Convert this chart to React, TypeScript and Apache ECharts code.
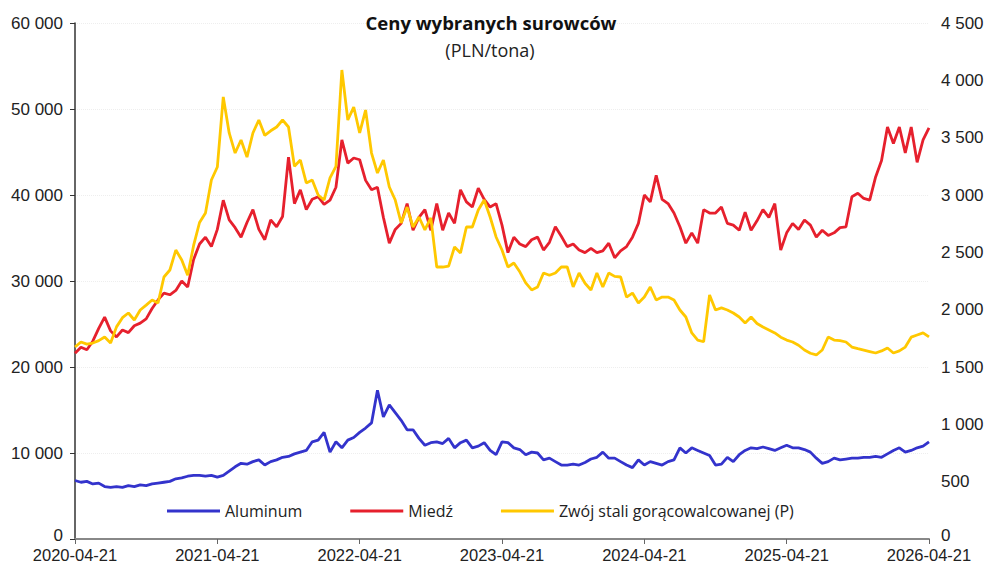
import React, { useEffect, useRef } from "react";
import * as echarts from "echarts";

// Semi-monthly observations, 2020-04-21 … 2026-04-21 (145 points)
const aluminum = [
  6800, 6600, 6700, 6400, 6500, 6100, 6000, 6100, 6000, 6200,
  6100, 6300, 6200, 6400, 6500, 6600, 6700, 7000, 7100, 7300,
  7400, 7400, 7300, 7400, 7200, 7400, 7900, 8400, 8800, 8700,
  9000, 9200, 8600, 9000, 9200, 9500, 9600, 9900, 10100, 10300,
  11300, 11500, 12400, 10100, 11300, 10600, 11500, 11800, 12400, 12900,
  13500, 17300, 14200, 15600, 14700, 13800, 12700, 12700, 11700, 10900,
  11200, 11300, 11100, 11700, 10600, 11200, 11500, 10600, 10800, 11200,
  10300, 9800, 11300, 11200, 10600, 10400, 9800, 10100, 10000, 9200,
  9400, 9000, 8600, 8600, 8700, 8600, 8900, 9300, 9500, 10100,
  9400, 9400, 9000, 8600, 8300, 9200, 8600, 9000, 8800, 8600,
  9000, 9200, 10600, 10000, 10600, 10300, 10000, 9700, 8600, 8700,
  9500, 9000, 9800, 10300, 10600, 10500, 10700, 10500, 10300, 10600,
  10900, 10600, 10600, 10400, 10100, 9400, 8800, 9000, 9400, 9200,
  9300, 9400, 9400, 9500, 9500, 9600, 9500, 9900, 10300, 10600,
  10100, 10300, 10600, 10800, 11300,
];

const copper = [
  21600, 22300, 22000, 23000, 24500, 25800, 24200, 23500, 24300, 24000,
  24800, 25100, 25600, 26800, 27800, 28600, 28400, 28900, 30000, 29300,
  32500, 34300, 35100, 34000, 36000, 39400, 37100, 36200, 35100, 36800,
  38300, 36000, 34800, 37100, 36300, 37500, 44400, 39000, 40600, 38300,
  39500, 39800, 38900, 39400, 40900, 46400, 43700, 44300, 44100, 41700,
  40600, 40900, 37400, 34400, 36000, 36700, 39000, 35900, 37400, 38300,
  35900, 39000, 35900, 37900, 36700, 40600, 39200, 38600, 40800, 39500,
  38600, 39000, 36500, 33300, 35100, 34300, 34000, 34800, 35100, 33600,
  34500, 36300, 35200, 34000, 34300, 33600, 33300, 33800, 33300, 33500,
  34400, 32700, 33500, 34000, 35100, 36700, 40000, 39200, 42300, 39500,
  39000, 37900, 36300, 34400, 35600, 34400, 38300, 37900, 37900, 38600,
  36700, 36500, 35900, 38000, 35900, 37000, 38300, 37400, 39000, 33600,
  35600, 36700, 36000, 37100, 36500, 35100, 35900, 35300, 35600, 36200,
  36300, 39800, 40200, 39600, 39400, 42100, 44000, 47900, 46000, 47900,
  44900, 47900, 43800, 46400, 47800,
];

const steel = [
  1674, 1718, 1700, 1709, 1730, 1762, 1709, 1850, 1930, 1971,
  1910, 1997, 2040, 2084, 2058, 2285, 2346, 2520, 2433, 2300,
  2560, 2760, 2843, 3131, 3244, 3855, 3541, 3366, 3480, 3331,
  3541, 3654, 3520, 3560, 3593, 3654, 3593, 3250, 3305, 3105,
  3131, 3000, 2956, 3150, 3250, 4090, 3654, 3767, 3541, 3741,
  3366, 3192, 3305, 3070, 2956, 2756, 2895, 2721, 2808, 2695,
  2800, 2372, 2372, 2380, 2547, 2494, 2721, 2721, 2869, 2956,
  2808, 2634, 2520, 2372, 2407, 2330, 2233, 2172, 2198, 2320,
  2300, 2320, 2372, 2372, 2198, 2320, 2230, 2172, 2320, 2198,
  2320, 2290, 2285, 2110, 2145, 2058, 2110, 2198, 2084, 2110,
  2110, 2084, 1997, 1936, 1797, 1735, 1720, 2128, 1997, 2015,
  1997, 1971, 1936, 1884, 1936, 1880, 1849, 1823, 1797, 1760,
  1735, 1718, 1690, 1648, 1620, 1605, 1648, 1762, 1735, 1730,
  1718, 1674, 1660, 1648, 1635, 1622, 1640, 1666, 1622, 1640,
  1674, 1760, 1779, 1797, 1762,
];

const seriesNames = ["Aluminum", "Miedź", "Zwój stali gorącowalcowanej (P)"];
const seriesColors = ["#3333cc", "#e6202d", "#ffc800"];
const titleText = "Ceny wybranych surowców";
const subtitleText = "(PLN/tona)";

function pad(n: number) {
  return n < 10 ? "0" + n : String(n);
}

// category dates: the 21st and the 6th of each month
function buildDates(count: number): string[] {
  const out: string[] = [];
  for (let k = 0; k < count; k++) {
    const monthOffset = Math.ceil(k / 2);
    const m0 = 3 + monthOffset; // April = 3 (0-based)
    const y = 2020 + Math.floor(m0 / 12);
    const m = (m0 % 12) + 1;
    const d = k % 2 === 0 ? 21 : 6;
    out.push(`${y}-${pad(m)}-${pad(d)}`);
  }
  return out;
}

const dates = buildDates(copper.length);

function fmtThousands(v: number) {
  const s = String(Math.round(v));
  return s.replace(/\B(?=(\d{3})+(?!\d))/g, " ");
}

const yLabel = (v: number) => (v === 0 ? "{z|0}" : fmtThousands(v));

const isYearTick = (_i: number, v: string) => v.endsWith("-04-21");

export default function App() {
  const ref = useRef<HTMLDivElement>(null);

  useEffect(() => {
    document.body.style.margin = "0";
    if (!ref.current) return;
    const chart = echarts.init(ref.current, undefined, { renderer: "svg" });
    const axisFont = "Liberation Sans, Arial, sans-serif";
    const zeroRich = {
      z: {
        fontFamily: axisFont,
        fontSize: 17,
        color: "#222",
        padding: [0, 0, 7, 0],
      },
    };
    chart.setOption({
      animation: false,
      backgroundColor: "#ffffff",
      title: [
        {
          text: titleText,
          left: 486,
          top: 8,
          textAlign: "center",
          textStyle: {
            fontFamily: "Open Sans",
            fontWeight: "bold",
            fontSize: 18.5,
            color: "#111",
          },
        },
        {
          text: subtitleText,
          left: 485,
          top: 36,
          textAlign: "center",
          textStyle: {
            fontFamily: "Open Sans",
            fontWeight: "normal",
            fontSize: 18,
            color: "#222",
          },
        },
      ],
      legend: {
        left: 167,
        top: 503,
        padding: 0,
        icon: "rect",
        itemWidth: 53,
        itemHeight: 3,
        itemGap: 48,
        textStyle: {
          fontFamily: "Open Sans",
          fontSize: 16,
          color: "#222",
        },
        data: seriesNames,
      },
      grid: {
        left: 75,
        right: 55,
        top: 23,
        bottom: 28,
        containLabel: false,
        outerBoundsMode: "none",
      },
      xAxis: {
        type: "category",
        data: dates,
        boundaryGap: false,
        axisLine: { lineStyle: { color: "#888", width: 2 } },
        axisTick: { show: true, interval: isYearTick, length: 5, lineStyle: { color: "#666", width: 1 } },
        axisLabel: {
          interval: isYearTick,
          margin: 8,
          lineHeight: 16,
          fontFamily: axisFont,
          fontSize: 16.5,
          color: "#222",
          showMinLabel: true,
          showMaxLabel: true,
        },
        splitLine: { show: false },
      },
      yAxis: [
        {
          type: "value",
          min: 0,
          max: 60000,
          interval: 10000,
          position: "left",
          axisLine: { show: true, lineStyle: { color: "#333", width: 1.5 } },
          axisTick: { show: true, length: 5, lineStyle: { color: "#333" } },
          axisLabel: {
            margin: 12,
            lineHeight: 16,
            fontFamily: axisFont,
            fontSize: 17,
            color: "#222",
            formatter: yLabel,
            rich: zeroRich,
          },
          splitLine: { show: true, lineStyle: { color: "#eeeeee", type: "dotted", width: 1 } },
        },
        {
          type: "value",
          min: 0,
          max: 4500,
          interval: 500,
          position: "right",
          axisLine: { show: false },
          axisTick: { show: false },
          axisLabel: {
            margin: 12,
            lineHeight: 16,
            fontFamily: axisFont,
            fontSize: 17,
            color: "#222",
            formatter: yLabel,
            rich: zeroRich,
          },
          splitLine: { show: false },
        },
      ],
      series: [
        {
          name: seriesNames[0],
          type: "line",
          yAxisIndex: 0,
          data: aluminum,
          showSymbol: false,
          symbol: "none",
          lineStyle: { color: seriesColors[0], width: 2.8 },
          itemStyle: { color: seriesColors[0] },
        },
        {
          name: seriesNames[1],
          type: "line",
          yAxisIndex: 0,
          data: copper,
          showSymbol: false,
          symbol: "none",
          lineStyle: { color: seriesColors[1], width: 2.8 },
          itemStyle: { color: seriesColors[1] },
        },
        {
          name: seriesNames[2],
          type: "line",
          yAxisIndex: 1,
          data: steel,
          showSymbol: false,
          symbol: "none",
          lineStyle: { color: seriesColors[2], width: 2.8 },
          itemStyle: { color: seriesColors[2] },
        },
      ],
    });
    return () => {
      chart.dispose();
    };
  }, []);

  return <div ref={ref} style={{ width: 984, height: 567 }} />;
}
